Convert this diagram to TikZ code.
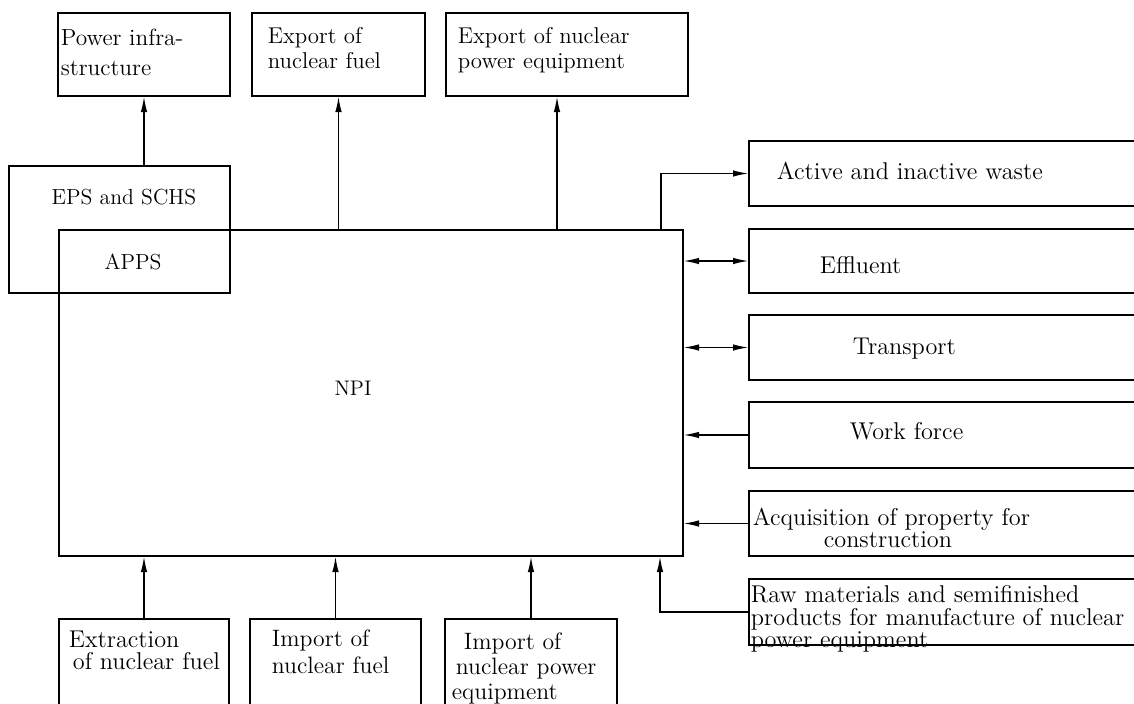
\documentclass[tikz,border=0pt]{standalone}
\usepackage{tikz}
\usetikzlibrary{arrows.meta, fit}

\begin{document}
\begin{tikzpicture}[x=0.02cm, y=-0.02cm, line width=1pt,
        >={Latex[length=3.2mm, width=1.3mm]},
        box/.style={draw, rectangle, inner sep=0pt, outer sep=0pt},
        txt/.style={inner sep=0pt, anchor=north west, align=left, font=\fontsize{13}{14.2}\selectfont},
        rtxt/.style={txt, font=\fontsize{13.8}{15}\selectfont}]
        \useasboundingbox (0,0) rectangle (1134,704);
        \clip (0,0) rectangle (1134,704);

        % 上段の箱
        \node[box, fit={(58,13) (230,96)}] (pinf) {};
        \node[box, fit={(252,13) (425,96)}] (xfuel) {};
        \node[box, fit={(446,13) (688,96)}] (xequip) {};
        \node[txt, font=\fontsize{13.3}{17}\selectfont] (pinftxt) at (60,28) {Power infra-\\structure};
        \node[txt] (xfueltxt) at (267,27) {Export of\\nuclear fuel};
        \node[txt] (xequiptxt) at (457,27) {Export of nuclear\\power equipment};

        % EPS と NPI
        \node[box, fit={(9,166) (230,293)}] (eps) {};
        \node[box, fit={(59,230) (683,556)}] (npi) {};
        \node[inner sep=0pt, font=\fontsize{12.4}{15}\selectfont] (epstxt) at (124,197) {EPS and SCHS};
        \node[inner sep=0pt, font=\fontsize{12.4}{15}\selectfont] (apps) at (133,262) {APPS};
        \node[inner sep=0pt, font=\fontsize{12}{15}\selectfont] (npitxt) at (353,388) {NPI};

        % 右側の箱
        \node[box, fit={(749,141) (1150,206)}] (waste) {};
        \node[box, fit={(749,229) (1150,293)}] (effl) {};
        \node[box, fit={(749,315) (1150,380)}] (trans) {};
        \node[box, fit={(749,402) (1150,468)}] (work) {};
        \node[box, fit={(749,491) (1150,556)}] (acq) {};
        \node[box, fit={(749,579) (1150,645)}] (raw) {};
        \node[rtxt] (wastetxt) at (776,161) {Active and inactive waste};
        \node[rtxt] (effltxt) at (819,256) {Effluent};
        \node[rtxt] (transtxt) at (852,337) {Transport};
        \node[rtxt] (worktxt) at (849,422) {Work force};
        \node[rtxt, font=\fontsize{13.8}{12.6}\selectfont] (acqtxt) at (752,507)
            {Acquisition of property for\\\hspace*{1.42cm}construction};
        \node[rtxt, font=\fontsize{13.8}{12.6}\selectfont] (rawtxt) at (750,585)
            {Raw materials and semifinished\\products for manufacture of nuclear\\power equipment};

        % 下段の箱
        \node[box, fit={(59,619) (229,720)}] (extr) {};
        \node[box, fit={(250,619) (421,720)}] (ifuel) {};
        \node[box, fit={(445,619) (617,720)}] (iequip) {};
        \node[rtxt, font=\fontsize{13.8}{12.6}\selectfont] (extrtxt) at (68,630)
            {Extraction\\\hspace*{0.08cm}of nuclear fuel};
        \node[rtxt, font=\fontsize{13.5}{15.3}\selectfont] (ifueltxt) at (271,629) {Import of\\nuclear fuel};
        \node[rtxt, font=\fontsize{13.5}{14.2}\selectfont] (iequiptxt) at (451,632)
            {\hspace*{0.24cm}Import of\\\hspace*{0.08cm}nuclear power\\equipment};

        % 矢印
        \coordinate (xq) at (557,0);
        \coordinate (wq) at (661,0);
        \coordinate (rq) at (660,0);
        \draw[->] (eps.north -| pinf.south) -- (pinf.south);
        \draw[->] (npi.north -| xfuel.south) -- (xfuel.south);
        \draw[->] (npi.north -| xq) -- (xequip.south -| xq);
        \draw[->] (npi.north -| wq) |- (waste.west);
        \draw[<->] (npi.east |- effl.west) -- (effl.west);
        \draw[<->] (npi.east |- trans.west) -- (trans.west);
        \draw[->] (work.west) -- (npi.east |- work.west);
        \draw[->] (acq.west) -- (npi.east |- acq.west);
        \draw[->] (raw.west) -| (npi.south -| rq);
        \foreach \b in {extr, ifuel, iequip} {
            \draw[->] (\b.north) -- (npi.south -| \b.north);
        }
\end{tikzpicture}
\end{document}
